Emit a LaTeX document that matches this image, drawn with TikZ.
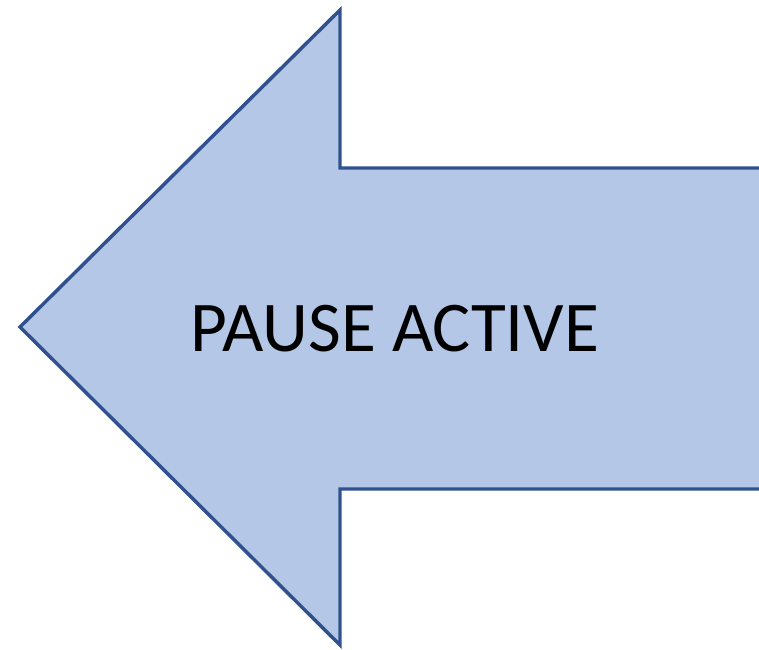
\documentclass[tikz,border=0pt]{standalone}
\usepackage{fontspec}
\setmainfont{Carlito}
\usepackage{tikz}
\usetikzlibrary{positioning}
\definecolor{pablue}{RGB}{47,82,143}
\definecolor{palightblue}{RGB}{180,199,231}
\tikzstyle{arrowshape} = [draw=pablue, fill=palightblue, line width=2.6pt, line join=miter]
\tikzstyle{caption} = [text=black, font=\fontsize{53.5}{64}\selectfont, inner sep=0pt]

\begin{document}
\begin{tikzpicture}[x=0.75pt, y=-0.75pt]
\useasboundingbox (0,0) rectangle (759,649);
\clip (0,0) rectangle (759,649);
% Arrow corners
\coordinate (tip) at (20,327);
\coordinate (headtop) at (340,10);
\coordinate (headbot) at (340,645);
\coordinate (shafttop) at (340,168);
\coordinate (shaftbot) at (340,489);

% Arrow body (shaft runs off the right edge)
\draw[arrowshape] (tip) -- (headtop) -- (shafttop) -- (790,168) -- (790,489) -- (shaftbot) -- (headbot) -- cycle;

% Label
\node[caption] (label) at (395,329) {PAUSE ACTIVE};
\end{tikzpicture}
\end{document}
